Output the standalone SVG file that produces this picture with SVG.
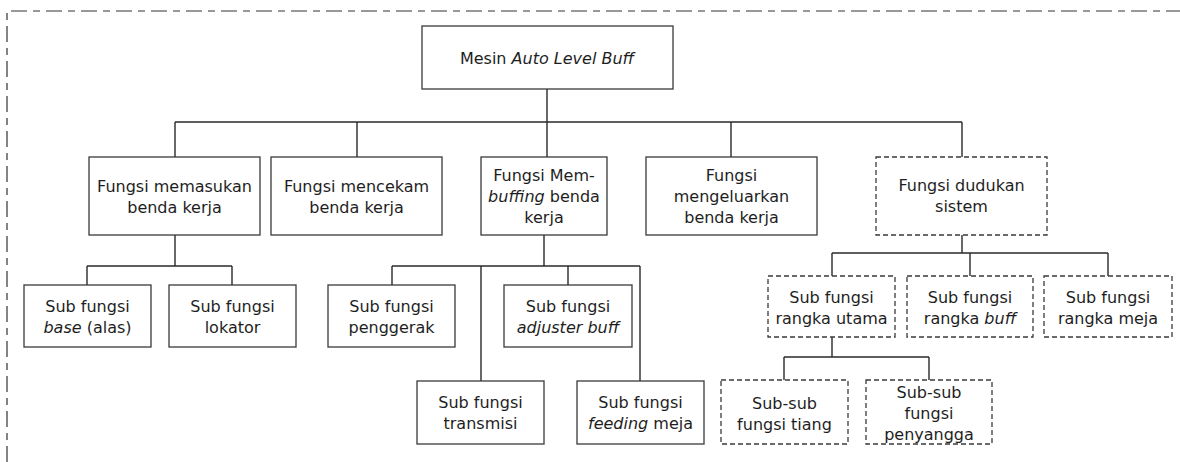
<svg xmlns="http://www.w3.org/2000/svg" width="1180" height="462" viewBox="0 0 1180 462">
<style>
.box{fill:#fff;stroke:#3a3a3a;stroke-width:1.3}
.dbox{fill:#fff;stroke:#3a3a3a;stroke-width:1.3;stroke-dasharray:5 3}
.conn{fill:none;stroke:#2a2a2a;stroke-width:1.4}
.frame{fill:none;stroke:#333;stroke-width:1.2;stroke-dasharray:16 6 7 6}
text{font-family:"DejaVu Sans","Verdana",sans-serif;font-size:16px;fill:#1e1e1e;text-anchor:middle}
.it{font-style:italic}
</style>
<rect width="1180" height="462" fill="#fff"/>
<path class="frame" d="M7,462 V11 H1180"/>
<g id="connectors">
<path class="conn" d="M547,89 V157 M175,122 H962 M175,122 V157 M357,122 V157 M731,122 V157 M962,122 V157"/>
<path class="conn" d="M175,235 V266 M87,266 H232 M87,266 V285 M232,266 V285"/>
<path class="conn" d="M544,235 V266 M392,266 H640 M392,266 V285 M481,266 V381 M568,266 V285 M640,266 V381"/>
<path class="conn" d="M962,235 V253 M832,253 H1108 M832,253 V276 M970,253 V276 M1108,253 V276"/>
<path class="conn" d="M832,337 V357 M784,357 H929 M784,357 V380 M929,357 V380"/>
</g>
<g id="n-root"><rect class="box" x="422" y="26" width="251" height="63"/><text x="547" y="64">Mesin <tspan class="it">Auto Level Buff</tspan></text></g>
<g id="n-memasukan"><rect class="box" x="89" y="157" width="171" height="78"/><text x="174.5" y="191.5">Fungsi memasukan</text><text x="174.5" y="212.5">benda kerja</text></g>
<g id="n-mencekam"><rect class="box" x="271" y="157" width="171" height="78"/><text x="356.5" y="191.5">Fungsi mencekam</text><text x="356.5" y="212.5">benda kerja</text></g>
<g id="n-buffing"><rect class="box" x="481" y="157" width="126" height="78"/><text x="544" y="180.5">Fungsi Mem-</text><text x="544" y="201.5"><tspan class="it">buffing</tspan> benda</text><text x="544" y="222.5">kerja</text></g>
<g id="n-mengeluarkan"><rect class="box" x="646" y="157" width="171" height="78"/><text x="731.5" y="180.5">Fungsi</text><text x="731.5" y="201.5">mengeluarkan</text><text x="731.5" y="222.5">benda kerja</text></g>
<g id="n-dudukan"><rect class="dbox" x="876" y="157" width="171" height="78"/><text x="961.5" y="191">Fungsi dudukan</text><text x="961.5" y="212">sistem</text></g>
<g id="n-base"><rect class="box" x="24" y="285" width="127" height="62"/><text x="87.5" y="311.5">Sub fungsi</text><text x="87.5" y="332.5"><tspan class="it">base</tspan> (alas)</text></g>
<g id="n-lokator"><rect class="box" x="169" y="285" width="127" height="62"/><text x="232.5" y="311.5">Sub fungsi</text><text x="232.5" y="332.5">lokator</text></g>
<g id="n-penggerak"><rect class="box" x="328" y="285" width="127" height="62"/><text x="391.5" y="311.5">Sub fungsi</text><text x="391.5" y="332.5">penggerak</text></g>
<g id="n-adjuster"><rect class="box" x="504" y="285" width="128" height="62"/><text x="568" y="311.5">Sub fungsi</text><text x="568" y="332.5" class="it">adjuster buff</text></g>
<g id="n-transmisi"><rect class="box" x="417" y="381" width="127" height="63"/><text x="480.5" y="407.5">Sub fungsi</text><text x="480.5" y="428.5">transmisi</text></g>
<g id="n-feeding"><rect class="box" x="577" y="381" width="127" height="63"/><text x="640.5" y="407.5">Sub fungsi</text><text x="640.5" y="428.5"><tspan class="it">feeding</tspan> meja</text></g>
<g id="n-rangka-utama"><rect class="dbox" x="768" y="276" width="127" height="61"/><text x="831.5" y="302.5">Sub fungsi</text><text x="831.5" y="323.5">rangka utama</text></g>
<g id="n-rangka-buff"><rect class="dbox" x="907" y="276" width="126" height="61"/><text x="970" y="302.5">Sub fungsi</text><text x="970" y="323.5">rangka <tspan class="it">buff</tspan></text></g>
<g id="n-rangka-meja"><rect class="dbox" x="1044" y="276" width="128" height="61"/><text x="1108" y="302.5">Sub fungsi</text><text x="1108" y="323.5">rangka meja</text></g>
<g id="n-tiang"><rect class="dbox" x="721" y="380" width="127" height="64"/><text x="784.5" y="408.5">Sub-sub</text><text x="784.5" y="429.5">fungsi tiang</text></g>
<g id="n-penyangga"><rect class="dbox" x="866" y="380" width="126" height="64"/><text x="929" y="397.5">Sub-sub</text><text x="929" y="418.5">fungsi</text><text x="929" y="439.5">penyangga</text></g>
</svg>
